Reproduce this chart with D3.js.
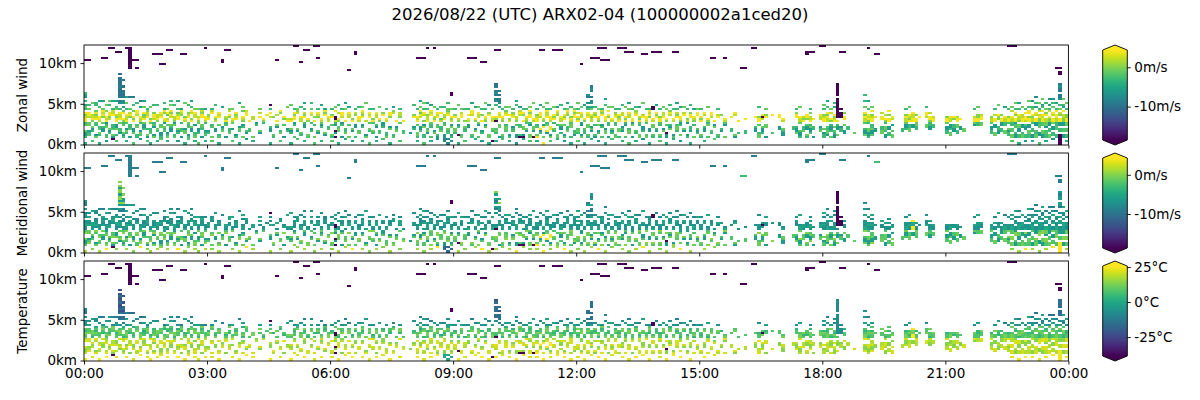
<!DOCTYPE html>
<html>
<head>
<meta charset="utf-8">
<script src="https://cdn.jsdelivr.net/npm/d3@7"></script>
<style>
body { margin: 0; background: #fff; }
text { font-family: "DejaVu Sans", sans-serif; }
</style>
</head>
<body>
<svg width="1200" height="400"></svg>
<script>
var title = "2026/08/22 (UTC) ARX02-04 (100000002a1ced20)";
var panelNames = ["Zonal wind", "Meridional wind", "Temperature"];
var colorDomains = [[-18.5, 4.4], [-18.7, 4.3], [-38.5, 25.7]];
var colorTicks = [[0, -10], [0, -10], [25, 0, -25]];
var colorUnits = ["m/s", "m/s", "°C"];
var heightTicks = [0, 5, 10];
var timeTicks = [0, 3, 6, 9, 12, 15, 18, 21, 24];
var timeLabels = ["00:00", "03:00", "06:00", "09:00", "12:00", "15:00", "18:00", "21:00", "00:00"];

// one letter per measured cell, the three series below give its value in each panel
var codes =       ["a", "b", "c", "d", "e", "f", "g", "h", "i", "j", "k", "l", "m", "n", "o", "p", "q", "r", "s", "u", "v", "x", "y", "z"];
var zonal =       [-4, -6, -2, 1, 4, 0, -1, 2, -3, -6, -1, -3, -5, -1, -7, -9, -10, 4, -8, -25, -25, -25, -25, -25];
var meridional =  [1, 4, 0, -4, -7, -6, -8, -5, -2, -6, -1, -7, -8, -5, -9, -6, 0, 4, -11, 4, -3, -25, -25, -9];
var temperature = [24, 26, 22, 14, 8, 4, 2, 12, 18, 14, 21, -6, -10, -2, -14, -16, -22, 25, 0, 24, -45, -8, -45, -45];

var stepHours = 5 / 60;   // one profile every 5 minutes
var binKm = 0.25;         // range gate
var segStart = [0, 3, 11, 17];  // first gate of each "|" separated part of a profile

var profiles = [
  // 00:00
  "a  |ijjk  ci|eehfe |lnm l oml", "   | cij  kk|  hee |n l", " c |   ijk  |fehh  |   n", "   |kj    ic| ehfeg|  ll",
  "a  | ik ci  |hee   | l  m", "   |   jji k|  fehe|n   m", " b |ci   kij|ehe  f|  n", "   |  ijk   | hfee |  l n",
  "  y|jk  cii |   ehh|l   m", " c | i  kjj |eefh  |nl  m", "   |  jci  k| ehhe |l  op pqpqqpqqpq q", "   |ijk   ci|fe  eg| m oo pqpp q  q",
  // 01:00
  " a |  ikj  c|ehhe  |l  n  m", "   |j   cii |  feh |n     p", "c  |  kjj   |efe  g|  l   p", "   |ii   kc |   hee|   l",
  "  b| ckj   i|hhe   | m  p", "   |    ijjk| efge | n  m", " c |jk  i   |  ehhf|l", "a  |  cii  k|ef    | n",
  "   |kj   jci| heef |  l", " a |   ik   |fehh  |  l", "  c|ijj  kc |  ehe |", "   |   cik j|he  fe|m  l",
  // 02:00
  " a |kij   c |eh ge |n", "   |   jjik |  hefe|  n l", "   |ci    kj|fhh   |  l", " b |  ijk   | eehg |l   m",
  "   |j  ci  i|   fhe|m", "a  |  kkj   |hef   |   n", "  c|ij   cik|  ehf |  l", "   |   jjk  |ef  he| l  m",
  " a |kci   j |  hhe |n", "c  |  ijj  k|feh   |n", "   |j   ick |  eefh|l", " a | cij   i|hee   |m",
  // 03:00
  "   |  ij    | ehf  |", " c |k    ci |    eh|l", "   |   jj   |hfe   |  l", "a  |ci    k |  ehe |",
  "   |   kij  |      | m", "   |j     ci|efh   |", "   |  kii   |  fe h|n", " c |    j  k|he    |n",
  "   |ij      | ehfe |", "a  |   ckj  |      |   m", "   |k    ij |fhe  g| n", "  b|  jc    |   eeh|",
  // 04:00
  "   |   ic   |e     |", " a |k       | hh   |", "   |      ij|      |", "   |  jk    |  e h |n",
  "   |       i|fe    |", "   |        |   e  |", "a  |   jji  |  h e |l y", "   |ic      |  f   |",
  "   |     jk |e  h  |", " c |  ki    |    fe|", "   |j     c | fe   |", "   |   ij   |eh    | n",
  // 05:00
  "a  |  ijk   |eh    |  n", "   |c     ij| eefe |l", "  c|   jk   |    hf|n", "   | ic     |hhe   | l",
  " a |     jji|  efh |l  m", "   |ck      |fe    |", "   |   ij  i|   he |n  l", "c  |k     i |e f   |",
  "   |  jc    |  fhe |l", " a |     ijk|he    |  m", "   | jk     |   efe|m", "   |    ci  |hhe   |",
  // 06:00
  " c |ik    c |  ef  |l", "   |y jy  ji|hyy  e| n", "a  |   kkc  |fe  h |  l", "   |j     ij|  hee |l",
  "  a|  kii   |e     |n  m", "   |k     c |  hhe | m", " b |   jk   |ef    |", "   |i    jj |   fh |l",
  "   |  kc    |hee   | l", " a |     ij |  efhe| n", "   |kj      |h     |   n", "c  |   ik  c|  ehe |l",
  // 07:00
  "   |  ik   c|ef    |l", " a |j    ji |  hhe |", "   |  ci    |fe    | n", "  c|     ijj|   ef |",
  "   |kii     |he    |l", "a  |    kj  |  fee |", "   |ci      |    hf| m", "   |   kij  |e     |",
  " c |       k|  fhh |l", "   |  ci    |e     |", "   |        |      |", "   |  j     |      |",
  // 08:00
  "   |    ij  |  ef  |  l", " a |ikk   c |ehe   |l", "   |   cjj  |  hege| n  m", "c  |ii   kj |f  he |l  n",
  "   |  jkc   |ehhf  |l  m", " a |c    iik|   ehe|  m", "   |  kj    |efh   | n", "  b|ji   cc |  ehe |l",
  "   |   kii  |hg  e | l", " ss|jj    ci| efh  | l", "s s|  cik   |   ehg|n  l", " s |ij   kj |hfe   |n      yy",
  // 09:00
  "   |  ikk   |  ef  |l", "a  | y   ij |fh    |  n", "   |kc      |  eeh |n", " c |   iik  |f     |l",
  "   |     jj |he e  |l", "   |ic      |   hee|   m", "  a|   kj   |fe    | m", "   |c     jk|  hhe | n",
  " b |  ij    |e  f  |l", "   |     cj |fhe   |l  n", "a  |kk      |   ef |  m", " y |   ik   |hhe   |n",
  // 10:00
  " a |  ikc   |yfe   |  l op pop pq", "   |j    kk |  ehe | m opp q p", "  c|ik      |fhe   |l", "   |   ckki |   ehg| n",
  " a |ij      |hf e  | n", "   |   cij  |  ehf |l", "b  |jj    c |fhh   |  l m", "   |yi   ci |   heh| m",
  "  a|yj  kk  |e  fe |l", "   |   jk  c|fhe   |l", " c |kk    ji|  eefe| n", "   |y  jkk  |he    |   n",
  // 11:00
  " a |rk   ci |eehf  |l", "   |  ijr   |  hee |  m", "r  |k    rj |fh    | n", "   |  jr  ki|  ehhe|l  n",
  " c |kj  rr  |hee   |l", "   |   ik  i| efe  | n", "  a|kk    i |   fhe| m", "   |  i jjk |hhe   |  l",
  " b |cj    k | efe  |l", "   |   kii  |   fhe|n  m", "a  |i    kkc|hef   | l", "   | jci    |  eefe|n",
  // 12:00
  " c |  ikc   |efe h |l  n", "   |kj    jj|  hhe | n", "a  |  iic   |fe    |  m", "   |ic   kk |  ehe |lm o  po",
  "  a|   jcj  |hhfe  |nm oo p  pop", "   |jc    i |  efh | l", " b |  ij  k |fhe   |n", "   |c    ij |   efh|l",
  "a  |  kkj   |hee   |  l  m", "   |j     ii|  fe e| n", "  c|  ijk   |he    | n", "   |kc    ci|  ehf |l",
  // 13:00
  "   |i  kk   |ehfe  |l", " a |   jij  |   hh |  l", "   |c     ji|efe   | n", "c  |  kki   |  hhe |n  m",
  "   |j     kj|ee    |l", " a |  ic    |   ehf| l", "   |kk    ic|efh   | m", "  b|   ijj  |  eh  |   n",
  "   |kc     c|hee   |l", "a  |   jj   |  fehe|l", "   |ic   kk |he    |yy", "   |   ji   |  efe |  m",
  // 14:00
  " c |ik    ic|eef   |l", "   |   kj   |  ehh | n", "a  |jjy   c |fe    |n", "   |    kji |   hef|  l",
  "  a|cj      |he    |l", "   |   ikkc |  efh |l  m", " b | k    ij|fee   | m", "   |   jk   |   eh | n",
  "   |ij     j|hf    |l", "a  |   jii  |  eef |  l", "   |k     i |fhe   |m", "   |  ijc   |   ee |n",
  // 15:00
  "   |ik      |efe   |l", " a |   jji  |   he |", "   |c     ki|fe    | n", "   |  ic    |  hee |",
  "  c|     kj |e     |", "   |ic      |  eh  |l", "   |   ji   |   f  |", "   |k     jc|he    |",
  "   |        |      |", "   |   ii   |  e   |", "   |jk      |   he |", "   |  i     |e     |",
  // 16:00
  "   |        |      |", "   |  ii    | e    |", "   |        |      |", "   |        |      |",
  "   |   jji  |  e   |", "   |kki   c |eef   | l", "   |  ijjk  | hye  |", "   |j    kk |  ef  |n",
  "   |        |      |", "   |  c     |   e  |", "   |        |      |", "   |    jj  |  ee  |",
  // 17:00
  "   | jjik   |he    |", "   |        |      |", "   |        |      |", "   |    ii  |      |",
  "   |  kjji  |  eef |l", "   |ijjc   k|hhe   | n", "   |   kii  |efh   |", "   |ik  jjc | fee  |",
  "   |  cjjki |ehh f |l", "   |j   ii  | e    |", "   |        |      |", "   |   kij  | hhe  |",
  // 18:00
  "   |iij k   |eehf  |l n", "   | jkkic  |hhefe | l  m", "   |k  ijji |fe  h |n", "   |jjic k  |ehfe  | m l",
  "   | k  jji |e xxxx|xxxxxx xxxxxx", "   |   iij  |  xxx |x", "   |  jj  k | ee f |", "   |    ii  |      |",
  "   |        |      |", "   |  k     |      |", "   |        |      |", "   |        |      |",
  // 19:00
  "   | kjji  c|hhefe | n  l  l", "   |ijjkk  i|fehe  |l   m", "   | cjjkii |eehf e| n", "   |   jj   |  e   |",
  "   |        |      |", "   |  kkii  | ee h |", "   |jj ikk i|fe h  |", "   | ii jj  |ee f e|",
  "   |kk c  j | he   |", "   |        |      |", "   |        |      |", "   |   ii   |      |",
  // 20:00
  "   |    ijjk|hhef  |l", "   |   kkii |efhe  | n", "   |     jj |rrhhr |", "   |    iikk|ee f  |",
  "   |        |  e   |", "   |        |      |", "   |     kk |  hee | l", "   |    jjii|fee h |",
  "   |     ii |eeh   |", "   |        |      |", "   |        |      |", "   |        |      |",
  // 21:00
  "   |  iijj k|eef   |", "   | kk ijj |hhe   |", "   |   jjii | fe   |", "   |  ii kk |eeh   |",
  "   |    jj  | e    |", "   |   kk   |      |", "   |        |      |", "   |        |      |",
  "   |      jk|eeh   |l", "   |      ii|eeff  | n", "   |      kk| eeh  |", "   |        |      |",
  // 22:00
  "   |        |      |", "   |  iijj k|hhf   |", "   | kk  jj |ee h  |l", "   |  jjii  | ffe  |  n",
  "   |   ii jj|ee f  |", "   |  kk  ii|hhe   | m", "   | iijk  c|eef   |l", " c |kk cc ii|hhe  h| n",
  "   |jji  ccj|ee fe |l  n", "a  |ii jjkk |fhhe  |l  m", "   |kki  jj |eehh  | n", " b |ii  jjc |hee e |l",
  // 23:00
  "   |iikk jj |eef ee| l  n", " a |jj ii  i|hhfe  |nl  o", "   |kkic  jj|ee he | m l  o", "c  | jj  cci|ffeh h|l  n",
  "   |jjkk  cc|eehe e| lm  n", " a |iicc jkk|hh ef |n  l", "   |kk ii jj|ffe  h|l m  o", "  b| ii jj k|ee he | n l o",
  "   |ii  ccii|hhee e|l  m", "uuu|uu ii jj|ee fh |n l  opp ppop", "   |jj cc jj|ffhh e| ml  n", " a |ii cc kk|eeff  |l  n"
];

// sparse echoes high up: [first profile, last profile, lowest gate, highest gate, code]
var highCells = [
  [0, 1, 41, 41, "z"], [5, 6, 42, 42, "z"], [7, 8, 47, 47, "z"], [9, 10, 45, 45, "z"], [12, 13, 47, 47, "z"],
  [13, 13, 37, 46, "z"], [14, 15, 41, 41, "z"], [15, 15, 37, 37, "z"], [20, 22, 44, 44, "z"], [22, 23, 39, 39, "z"],
  [24, 25, 46, 46, "z"], [28, 29, 44, 44, "z"], [35, 35, 47, 47, "z"], [40, 40, 40, 41, "z"], [41, 42, 46, 46, "z"],
  [56, 56, 41, 41, "z"], [61, 62, 48, 48, "z"], [63, 63, 40, 40, "z"], [64, 65, 46, 46, "z"], [67, 68, 48, 48, "z"],
  [68, 68, 42, 42, "z"], [77, 77, 36, 36, "z"], [79, 79, 44, 45, "z"], [97, 99, 42, 42, "z"], [100, 100, 47, 47, "z"],
  [102, 102, 47, 47, "z"], [112, 114, 42, 42, "z"], [116, 117, 40, 40, "z"], [120, 121, 46, 46, "z"], [133, 134, 46, 46, "z"],
  [137, 139, 46, 46, "z"], [145, 145, 39, 39, "z"], [148, 150, 42, 42, "z"], [150, 152, 47, 47, "z"], [151, 153, 41, 41, "z"],
  [156, 158, 47, 47, "z"], [158, 160, 45, 45, "z"], [163, 164, 44, 44, "z"], [166, 168, 45, 45, "z"], [172, 173, 45, 45, "z"],
  [183, 184, 42, 42, "z"], [187, 187, 42, 42, "z"], [192, 193, 37, 37, "v"], [195, 196, 47, 47, "z"], [211, 213, 45, 45, "z"],
  [211, 211, 44, 44, "z"], [215, 216, 48, 48, "z"], [221, 222, 45, 45, "z"], [229, 229, 47, 47, "z"], [231, 232, 44, 44, "v"],
  [270, 272, 48, 48, "z"], [284, 285, 37, 37, "z"], [285, 285, 34, 35, "z"]
];

var svg = d3.select("svg");
var left = 84, right = 1068.4;
var panelTop = [45, 153, 261], panelH = 100;
var cbX = 1102.7, cbW = 24.6, cbPad = 5;
var series = [zonal, meridional, temperature];

var cells = [];
profiles.forEach(function (p, col) {
  p.split("|").forEach(function (seg, k) {
    for (var i = 0; i < seg.length; i++) {
      if (seg[i] !== " ") cells.push({ col: col, bin: segStart[k] + i, code: seg[i] });
    }
  });
});
highCells.forEach(function (h) {
  for (var c = h[0]; c <= h[1]; c++)
    for (var b = h[2]; b <= h[3]; b++) cells.push({ col: c, bin: b, code: h[4] });
});

var x = d3.scaleLinear().domain([0, 24]).range([left, right]);

svg.append("text")
  .attr("x", 600).attr("y", 20)
  .attr("text-anchor", "middle")
  .attr("font-size", 16.5)
  .text(title);

var defs = svg.append("defs");
var grad = defs.append("linearGradient").attr("id", "viridis")
  .attr("x1", 0).attr("y1", 1).attr("x2", 0).attr("y2", 0);
d3.range(0, 1.0001, 0.05).forEach(function (t) {
  grad.append("stop").attr("offset", t).attr("stop-color", d3.interpolateViridis(t));
});

panelNames.forEach(function (name, p) {
  var top = panelTop[p];
  var y = d3.scaleLinear().domain([-0.06, 12.22]).range([top + panelH, top]);
  var color = d3.scaleSequential(d3.interpolateViridis).domain(colorDomains[p]).clamp(true);
  var vals = series[p];

  defs.append("clipPath").attr("id", "clip" + p)
    .append("rect").attr("x", left).attr("y", top).attr("width", right - left).attr("height", panelH);

  svg.append("g").attr("clip-path", "url(#clip" + p + ")")
    .selectAll("rect").data(cells).enter().append("rect")
    .attr("x", function (d) { return x(d.col * stepHours); })
    .attr("width", function (d) { return x((d.col + 1) * stepHours) - x(d.col * stepHours); })
    .attr("y", function (d) { return y((d.bin + 1) * binKm); })
    .attr("height", function (d) { return y(d.bin * binKm) - y((d.bin + 1) * binKm); })
    .attr("shape-rendering", "crispEdges")
    .attr("fill", function (d) { return color(vals[codes.indexOf(d.code)]); });

  svg.append("rect")
    .attr("x", left).attr("y", top).attr("width", right - left).attr("height", panelH)
    .attr("fill", "none").attr("stroke", "#000").attr("stroke-width", 0.9);

  var yAxis = svg.append("g").attr("transform", "translate(" + left + ",0)")
    .call(d3.axisLeft(y).tickValues(heightTicks).tickSize(3.5).tickPadding(3.5)
      .tickFormat(function (d) { return d + "km"; }));
  var xAxis = svg.append("g").attr("transform", "translate(0," + (top + panelH) + ")")
    .call(d3.axisBottom(x).tickValues(timeTicks).tickSize(3.5).tickPadding(4)
      .tickFormat(function (d, i) { return p === 2 ? timeLabels[i] : ""; }));
  [yAxis, xAxis].forEach(function (a) {
    a.select(".domain").remove();
    a.attr("font-family", "DejaVu Sans").attr("font-size", 13.5);
    a.selectAll("line").attr("stroke", "#000").attr("stroke-width", 0.9);
    a.selectAll("text").attr("fill", "#000");
  });

  svg.append("text")
    .attr("transform", "translate(26.5," + (top + panelH / 2) + ") rotate(-90)")
    .attr("text-anchor", "middle")
    .attr("font-size", 13.5)
    .text(name);

  // colour bar with extension triangles
  var bTop = top + cbPad, bBot = top + panelH - cbPad;
  var cb = svg.append("g");
  cb.append("rect").attr("x", cbX).attr("y", bTop).attr("width", cbW).attr("height", bBot - bTop)
    .attr("fill", "url(#viridis)");
  cb.append("path").attr("d", "M" + cbX + "," + bTop + "L" + (cbX + cbW / 2) + "," + top + "L" + (cbX + cbW) + "," + bTop + "Z")
    .attr("fill", d3.interpolateViridis(1));
  cb.append("path").attr("d", "M" + cbX + "," + bBot + "L" + (cbX + cbW / 2) + "," + (top + panelH) + "L" + (cbX + cbW) + "," + bBot + "Z")
    .attr("fill", d3.interpolateViridis(0));
  cb.append("path")
    .attr("d", "M" + cbX + "," + bTop + "L" + (cbX + cbW / 2) + "," + top + "L" + (cbX + cbW) + "," + bTop +
      "L" + (cbX + cbW) + "," + bBot + "L" + (cbX + cbW / 2) + "," + (top + panelH) + "L" + cbX + "," + bBot + "Z")
    .attr("fill", "none").attr("stroke", "#000").attr("stroke-width", 0.9);

  var cs = d3.scaleLinear().domain(colorDomains[p]).range([bBot, bTop]);
  var cAxis = svg.append("g").attr("transform", "translate(" + (cbX + cbW) + ",0)")
    .call(d3.axisRight(cs).tickValues(colorTicks[p]).tickSize(3.5).tickPadding(3.5)
      .tickFormat(function (d) { return d + colorUnits[p]; }));
  cAxis.select(".domain").remove();
  cAxis.attr("font-family", "DejaVu Sans").attr("font-size", 13.5);
  cAxis.selectAll("line").attr("stroke", "#000").attr("stroke-width", 0.9);
  cAxis.selectAll("text").attr("fill", "#000");
});
</script>
</body>
</html>
